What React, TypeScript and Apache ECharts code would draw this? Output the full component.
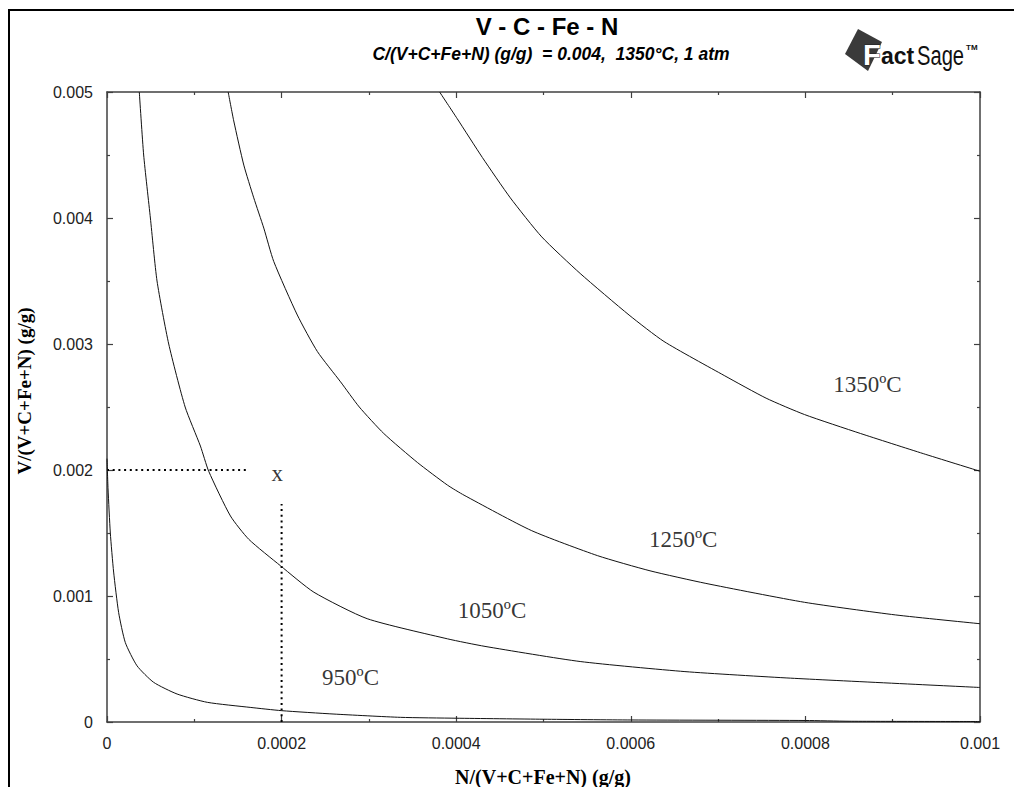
import React, { useEffect, useRef } from "react";
import * as echarts from "echarts";

const xTickLabels = ["0", "0.0002", "0.0004", "0.0006", "0.0008", "0.001"];
const yTickLabels = ["0", "0.001", "0.002", "0.003", "0.004", "0.005"];
const xStep = 0.0002;
const yStep = 0.001;

const curve950: number[][] = [
  [0, 0.00209], [0.0000012, 0.00185], [0.0000038, 0.0015], [0.0000076, 0.00119],
  [0.0000133, 0.00087], [0.000021, 0.00063], [0.0000344, 0.000446], [0.0000534, 0.000315],
  [0.0000803, 0.000222], [0.000115, 0.000156], [0.000164, 0.000116], [0.0002, 0.00009],
  [0.00026, 0.000063], [0.000336, 0.000037], [0.0004, 0.00003], [0.0005, 0.000022],
  [0.0006, 0.000016], [0.0008, 0.000012], [0.00085, 0.000006], [0.001, 0.000004],
];
const curve1050: number[][] = [
  [0.000037, 0.005], [0.000042, 0.0045], [0.0000497, 0.004], [0.0000573, 0.0035],
  [0.0000707, 0.003], [0.0000895, 0.0025], [0.000107, 0.00219], [0.0001165, 0.00199],
  [0.0001414, 0.001635], [0.0001624, 0.00145], [0.0001987, 0.00124], [0.000237, 0.00103],
  [0.000298, 0.00082], [0.00039, 0.00066], [0.000433, 0.0006], [0.000542, 0.00048],
  [0.000662, 0.0004], [0.000783, 0.000348], [0.001, 0.000274],
];
const curve1250: number[][] = [
  [0.0001388, 0.005], [0.0001452, 0.00477], [0.0001567, 0.00442], [0.0001681, 0.00416],
  [0.0001796, 0.00392], [0.000191, 0.003655], [0.000218, 0.00323], [0.000241, 0.00294],
  [0.0002675, 0.0027], [0.000289, 0.0025], [0.000317, 0.00229], [0.0003555, 0.00206],
  [0.00039, 0.00188], [0.000409, 0.0018], [0.000486, 0.00152], [0.000562, 0.00132],
  [0.000622, 0.0012], [0.000686, 0.0011], [0.000799, 0.00095], [0.000903, 0.00085],
  [0.001, 0.00078],
];
const curve1350: number[][] = [
  [0.000381, 0.005], [0.000401, 0.00479], [0.00043, 0.00448], [0.000462, 0.00416],
  [0.000498, 0.00385], [0.000542, 0.00356], [0.000598, 0.00323], [0.000638, 0.00302],
  [0.000707, 0.00275], [0.000755, 0.00257], [0.000799, 0.00244], [0.000863, 0.00229],
  [0.000935, 0.00213], [0.001, 0.00199],
];
const dottedH: number[][] = [[0, 0.002], [0.000163, 0.002]];
const dottedV: number[][] = [[0.0002, 0], [0.0002, 0.00173]];

const labelTexts = ["950ºC", "1050ºC", "1250ºC", "1350ºC", "x"];
const labelX = [0.000279, 0.000441, 0.00066, 0.000871, 0.000195];
const labelY = [0.000354, 0.000888, 0.00145, 0.00268, 0.00197];

const AXIS_COLOR = "#404040";
const SERIF = "'Liberation Serif', 'Times New Roman', serif";
const SANS = "'Liberation Sans', Arial, sans-serif";

function axisCommon(showLabel: boolean, isX: boolean) {
  return {
    type: "value" as const,
    min: 0,
    max: isX ? 0.001 : 0.005,
    interval: isX ? xStep : yStep,
    splitLine: { show: false },
    axisLine: { show: true, onZero: false, lineStyle: { color: AXIS_COLOR, width: 1.5 } },
    axisTick: { show: true, inside: true, length: 6, lineStyle: { color: AXIS_COLOR, width: 1.2 } },
    minorTick: { show: true, splitNumber: 2, length: 3, lineStyle: { color: AXIS_COLOR, width: 1.2 } },
    minorSplitLine: { show: false },
    axisLabel: {
      show: showLabel,
      margin: isX ? 13 : 14,
      color: "#222",
      fontFamily: SANS,
      fontSize: 16,
      formatter: (v: number) =>
        isX ? xTickLabels[Math.round(v / xStep)] : yTickLabels[Math.round(v / yStep)],
    },
  };
}

export default function App() {
  const ref = useRef<HTMLDivElement>(null);
  useEffect(() => {
    if (!ref.current) return;
    const chart = echarts.init(ref.current, null, { renderer: "svg" });
    const curveStyle = { color: "#111", width: 1 };
    const mkCurve = (name: string, data: number[][]) => ({
      name,
      type: "line",
      data,
      symbol: "none",
      smooth: 0.2,
      lineStyle: curveStyle,
      z: 3,
    });
    const dotted = (name: string, data: number[][]) => ({
      name,
      type: "line",
      data,
      symbol: "none",
      lineStyle: { color: "#000", width: 2, type: [2, 3.7] },
      z: 2,
    });
    chart.setOption({
      animation: false,
      backgroundColor: "#fff",
      grid: { left: 107, right: 35, top: 92, bottom: 65, containLabel: false },
      xAxis: [
        { ...axisCommon(true, true), position: "bottom" },
        { ...axisCommon(false, true), position: "top" },
      ],
      yAxis: [
        { ...axisCommon(true, false), position: "left" },
        { ...axisCommon(false, false), position: "right" },
      ],
      series: [
        mkCurve("950ºC", curve950),
        mkCurve("1050ºC", curve1050),
        mkCurve("1250ºC", curve1250),
        mkCurve("1350ºC", curve1350),
        dotted("dotted-h", dottedH),
        dotted("dotted-v", dottedV),
        {
          name: "labels",
          type: "scatter",
          symbolSize: 0,
          data: labelTexts.map((t, i) => ({ value: [labelX[i], labelY[i]], name: t })),
          label: {
            show: true,
            position: "inside",
            formatter: (p: any) => p.name,
            color: "#000",
            fontFamily: SERIF,
            fontSize: 23,
          },
          z: 4,
        },
      ],
      graphic: [
        { type: "line", shape: { x1: 8, y1: 10, x2: 1014, y2: 10 }, style: { stroke: "#000", lineWidth: 2 } },
        { type: "line", shape: { x1: 9, y1: 10, x2: 9, y2: 787 }, style: { stroke: "#000", lineWidth: 2 } },
        {
          type: "text", x: 547, y: 26,
          style: { text: "V - C - Fe - N", font: `bold 24px ${SANS}`, fill: "#000", textAlign: "center", textVerticalAlign: "middle" },
        },
        {
          type: "text", x: 551, y: 54,
          style: { text: "C/(V+C+Fe+N) (g/g)  = 0.004,  1350°C, 1 atm", font: `italic bold 17.5px ${SANS}`, fill: "#000", textAlign: "center", textVerticalAlign: "middle" },
        },
        {
          type: "text", x: 24, y: 391, rotation: Math.PI / 2,
          style: { text: "V/(V+C+Fe+N) (g/g)", font: `bold 19px ${SERIF}`, fill: "#000", textAlign: "center", textVerticalAlign: "middle" },
        },
        {
          type: "text", x: 543, y: 777,
          style: { text: "N/(V+C+Fe+N) (g/g)", font: `bold 20px ${SERIF}`, fill: "#000", textAlign: "center", textVerticalAlign: "middle" },
        },
        {
          type: "polygon",
          shape: { points: [[858, 29], [882, 42], [868, 71], [845, 54]] },
          style: { fill: "#3a3a3a" },
        },
        {
          type: "text", x: 863, y: 69,
          style: { text: "F", font: `bold 29px ${SANS}`, fill: "#fff", stroke: "#222", lineWidth: 1, textVerticalAlign: "bottom" },
          z: 10,
        },
        {
          type: "text", x: 881, y: 67,
          style: { text: "act", font: `bold 23px ${SANS}`, fill: "#111", textVerticalAlign: "bottom" },
        },
        {
          type: "text", x: 917, y: 69, scaleX: 0.72,
          style: { text: "Sage", font: `28px ${SANS}`, fill: "#111", textVerticalAlign: "bottom" },
        },
        {
          type: "text", x: 966, y: 47,
          style: { text: "TM", font: `bold 8px ${SANS}`, fill: "#111", textVerticalAlign: "middle" },
        },
      ],
    });
    return () => chart.dispose();
  }, []);
  return (
    <div
      ref={ref}
      style={{ position: "fixed", left: 0, top: 0, width: 1015, height: 787, background: "#fff" }}
    />
  );
}
